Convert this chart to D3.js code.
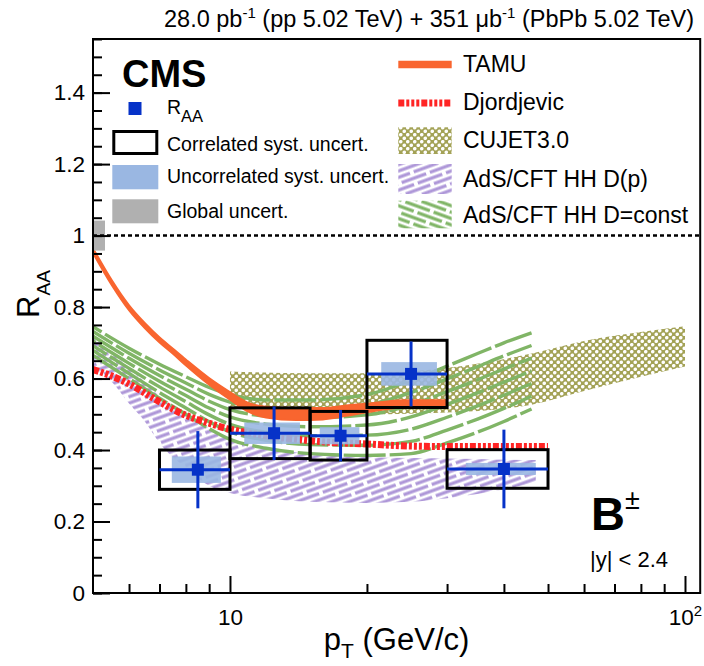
<!DOCTYPE html>
<html>
<head>
<meta charset="utf-8">
<script src="https://cdn.jsdelivr.net/npm/d3@7"></script>
<style>
  body { margin: 0; background: #fff; }
  svg text { font-family: "Liberation Sans", Arial, Helvetica, sans-serif; fill: #000; }
</style>
</head>
<body>
<svg id="chart" width="704" height="666"></svg>
<script>
// ---- CMS B+- nuclear modification factor, |y| < 2.4 ----
const binLow    = [7, 10, 15, 20, 30];
const binHigh   = [10, 15, 20, 30, 50];
const ptCenter  = [8.5, 12.5, 17.5, 25, 40];
const raa       = [0.345, 0.447, 0.440, 0.613, 0.347];
const statErr   = [0.108, 0.075, 0.072, 0.091, 0.110];
const corrSyst  = [0.055, 0.071, 0.068, 0.094, 0.054];
const uncorrSyst= [0.037, 0.030, 0.024, 0.033, 0.017];
const globalUnc = 0.042;

// ---- model predictions ----
const tamuPt = [5, 5.5, 6, 6.5, 7, 7.5, 8, 9, 10, 11, 12, 14, 16, 18, 20, 24, 30];
const tamuLo = [0.950, 0.860, 0.790, 0.740, 0.700, 0.668, 0.636, 0.582, 0.540, 0.506, 0.490, 0.483, 0.485, 0.495, 0.505, 0.518, 0.520];
const tamuHi = [0.966, 0.876, 0.806, 0.756, 0.716, 0.684, 0.654, 0.602, 0.563, 0.532, 0.522, 0.518, 0.518, 0.525, 0.530, 0.540, 0.540];

const djPt  = [5, 5.5, 6, 7, 8, 9, 10, 11, 12, 14, 16, 20, 25, 30, 40, 50];
const djRaa = [0.625, 0.607, 0.585, 0.535, 0.497, 0.475, 0.458, 0.448, 0.440, 0.430, 0.423, 0.417, 0.411, 0.410, 0.410, 0.410];

const cujetPt = [10, 15, 20, 30, 46, 60, 80, 100];
const cujetLo = [0.520, 0.505, 0.500, 0.505, 0.527, 0.565, 0.605, 0.634];
const cujetHi = [0.620, 0.615, 0.615, 0.630, 0.670, 0.705, 0.730, 0.746];

const adsDpPt = [5, 5.5, 6, 6.5, 7, 8, 9, 10, 12, 15, 20, 25, 30, 40, 47];
const adsDpLo = [0.625, 0.590, 0.530, 0.480, 0.420, 0.350, 0.300, 0.280, 0.265, 0.255, 0.252, 0.255, 0.265, 0.290, 0.310];
const adsDpHi = [0.715, 0.670, 0.630, 0.590, 0.550, 0.500, 0.460, 0.430, 0.405, 0.390, 0.380, 0.378, 0.376, 0.373, 0.372];

const adsDcPt = [5, 6, 7, 8, 9, 10, 12, 15, 20, 25, 30, 35, 40, 46];
const adsDcLo = [0.665, 0.600, 0.545, 0.500, 0.460, 0.430, 0.405, 0.390, 0.385, 0.390, 0.420, 0.450, 0.480, 0.515];
const adsDcHi = [0.745, 0.685, 0.640, 0.605, 0.575, 0.555, 0.540, 0.540, 0.555, 0.595, 0.635, 0.670, 0.700, 0.728];

// ---- axis ticks ----
const yMajorTicks = [0, 0.2, 0.4, 0.6, 0.8, 1.0, 1.2, 1.4];
const xMajorTicks = [10, 100];
const xMinorTicks = [6, 7, 8, 9, 20, 30, 40, 50, 60, 70, 80, 90];

// ---- colours ----
const cOrange = "#f9652f", cRed = "#ff2424", cOlive = "#a3a256", cPurple = "#ae97d8",
      cGreen = "#80b566", cBlue = "#0632c8", cLightBlue = "#9ab7e2", cGray = "#b0b0b0";
const djDash = "6,2,3,2,3,2,3,2";

const svg = d3.select("#chart");
const x = d3.scaleLog().domain([5, 108]).range([93, 700.2]);
const y = d3.scaleLinear().domain([0, 1.55]).range([593, 39]);
const X0 = x.range()[0], X1 = x.range()[1], Y0 = y.range()[0], Y1 = y.range()[1];

const defs = svg.append("defs");
defs.append("clipPath").attr("id", "plotClip").append("rect")
  .attr("x", X0).attr("y", Y1).attr("width", X1 - X0).attr("height", Y0 - Y1);

// dotted fill for CUJET3.0
const dots = defs.append("pattern").attr("id", "cujetDots")
  .attr("patternUnits", "userSpaceOnUse").attr("width", 7).attr("height", 7);
dots.append("rect").attr("width", 7).attr("height", 7).attr("fill", cOlive);
dots.append("circle").attr("cx", 1.75).attr("cy", 1.75).attr("r", 1.8).attr("fill", "#fff");
dots.append("circle").attr("cx", 5.25).attr("cy", 5.25).attr("r", 1.8).attr("fill", "#fff");

// slanted broken hatching
function hatch(id, colour, angle) {
  const p = defs.append("pattern").attr("id", id)
    .attr("patternUnits", "userSpaceOnUse").attr("width", 30).attr("height", 12)
    .attr("patternTransform", `rotate(${angle})`);
  const seg = [[0, 26, 3], [15, 30, 9], [0, 11, 9]];
  seg.forEach(s => p.append("line").attr("x1", s[0]).attr("x2", s[1]).attr("y1", s[2]).attr("y2", s[2])
    .attr("stroke", colour).attr("stroke-width", 3.2));
}
hatch("dpHatch", cPurple, -20);
hatch("dcHatch", cGreen, 20);

const plot = svg.append("g").attr("clip-path", "url(#plotClip)");

function band(pt, lo, hi) {
  return d3.area().x((d, i) => x(pt[i])).y0((d, i) => y(lo[i])).y1((d, i) => y(hi[i]))
    .curve(d3.curveMonotoneX)(pt);
}

// CUJET3.0
plot.append("path").attr("d", band(cujetPt, cujetLo, cujetHi)).attr("fill", "url(#cujetDots)");
// AdS/CFT HH D(p)
plot.append("path").attr("d", band(adsDpPt, adsDpLo, adsDpHi)).attr("fill", "url(#dpHatch)");
// AdS/CFT HH D=const: family of curves across the band
const nDc = 7;
d3.range(nDc).forEach(k => {
  const f = k / (nDc - 1);
  const line = d3.line().x((d, i) => x(adsDcPt[i]))
    .y((d, i) => y(adsDcLo[i] + f * (adsDcHi[i] - adsDcLo[i]))).curve(d3.curveMonotoneX);
  plot.append("path").attr("d", line(adsDcPt)).attr("fill", "none")
    .attr("stroke", cGreen).attr("stroke-width", 3.4).attr("stroke-dasharray", "42,4")
    .attr("stroke-dashoffset", k * 13);
});
// TAMU
plot.append("path").attr("d", band(tamuPt, tamuLo, tamuHi))
  .attr("fill", cOrange).attr("stroke", cOrange).attr("stroke-width", 1.5);
// Djordjevic
plot.append("path")
  .attr("d", d3.line().x((d, i) => x(djPt[i])).y((d, i) => y(djRaa[i])).curve(d3.curveMonotoneX)(djPt))
  .attr("fill", "none").attr("stroke", cRed).attr("stroke-width", 7)
  .attr("stroke-dasharray", djDash);

// global uncertainty at unity
plot.append("rect").attr("x", X0).attr("width", 12)
  .attr("y", y(1 + globalUnc)).attr("height", y(1 - globalUnc) - y(1 + globalUnc)).attr("fill", cGray);
// unity line
svg.append("line").attr("x1", X0).attr("x2", X1).attr("y1", y(1)).attr("y2", y(1))
  .attr("stroke", "#000").attr("stroke-width", 2.5).attr("stroke-dasharray", "4,3");

// data: uncorrelated syst. boxes (70% of the bin width)
const pts = ptCenter.map((c, i) => ({ c, lo: binLow[i], hi: binHigh[i], v: raa[i],
  st: statErr[i], cs: corrSyst[i], us: uncorrSyst[i] }));
plot.selectAll(".unc").data(pts).join("rect")
  .attr("x", d => x(d.c - 0.7 * (d.c - d.lo)))
  .attr("width", d => x(d.c + 0.7 * (d.hi - d.c)) - x(d.c - 0.7 * (d.c - d.lo)))
  .attr("y", d => y(d.v + d.us)).attr("height", d => y(d.v - d.us) - y(d.v + d.us))
  .attr("fill", cLightBlue).attr("opacity", 0.9);
// correlated syst. boxes
plot.selectAll(".corr").data(pts).join("rect")
  .attr("x", d => x(d.lo)).attr("width", d => x(d.hi) - x(d.lo))
  .attr("y", d => y(d.v + d.cs)).attr("height", d => y(d.v - d.cs) - y(d.v + d.cs))
  .attr("fill", "none").attr("stroke", "#000").attr("stroke-width", 3);
// statistical error bars
plot.selectAll(".ex").data(pts).join("line")
  .attr("x1", d => x(d.lo)).attr("x2", d => x(d.hi)).attr("y1", d => y(d.v)).attr("y2", d => y(d.v))
  .attr("stroke", cBlue).attr("stroke-width", 3);
plot.selectAll(".ey").data(pts).join("line")
  .attr("x1", d => x(d.c)).attr("x2", d => x(d.c)).attr("y1", d => y(d.v + d.st)).attr("y2", d => y(d.v - d.st))
  .attr("stroke", cBlue).attr("stroke-width", 3);
plot.selectAll(".mk").data(pts).join("rect")
  .attr("x", d => x(d.c) - 6).attr("y", d => y(d.v) - 6).attr("width", 12).attr("height", 12)
  .attr("fill", cBlue);

// ---- axes ----
function styleAxis(g, fs) {
  g.select(".domain").remove();
  g.selectAll(".tick line").attr("stroke", "#000").attr("stroke-width", 2);
  g.selectAll(".tick text").attr("font-size", fs).attr("fill", "#000");
}
svg.append("g").attr("transform", `translate(${X0},0)`)
  .call(d3.axisLeft(y).tickValues(y.ticks(31)).tickSize(-9).tickFormat(""))
  .call(g => styleAxis(g, 0));
svg.append("g").attr("transform", `translate(${X0},0)`)
  .call(d3.axisLeft(y).tickValues(yMajorTicks).tickSize(-17).tickPadding(8).tickFormat(d3.format("~g")))
  .call(g => styleAxis(g, 22.5));
svg.append("g").attr("transform", `translate(0,${Y0})`)
  .call(d3.axisBottom(x).tickValues(xMinorTicks).tickSize(-9).tickFormat(""))
  .call(g => styleAxis(g, 0));
const xAx = svg.append("g").attr("transform", `translate(0,${Y0})`)
  .call(d3.axisBottom(x).tickValues(xMajorTicks).tickSize(-17).tickPadding(16).tickFormat(d => d === 100 ? "" : "10"))
  .call(g => styleAxis(g, 22.5));
xAx.selectAll(".tick text").filter(d => d === 100).each(function () {
  const t = d3.select(this);
  t.append("tspan").text("10");
  t.append("tspan").attr("font-size", 15).attr("dy", -9).text("2");
});

// frame
svg.append("rect").attr("x", X0).attr("y", Y1).attr("width", X1 - X0).attr("height", Y0 - Y1)
  .attr("fill", "none").attr("stroke", "#000").attr("stroke-width", 2);

// axis titles
const xt = svg.append("text").attr("x", (X0 + X1) / 2).attr("y", 650).attr("text-anchor", "middle").attr("font-size", 31);
xt.append("tspan").text("p");
xt.append("tspan").attr("font-size", 21).attr("dy", 8).text("T");
xt.append("tspan").attr("dy", -8).text(" (GeV/c)");
const yt = svg.append("text").attr("transform", "translate(38.6,294) rotate(-90)").attr("text-anchor", "middle").attr("font-size", 31);
yt.append("tspan").text("R");
yt.append("tspan").attr("font-size", 19).attr("dy", 11).text("AA");

// header
const hd = svg.append("text").attr("x", 694).attr("y", 27).attr("text-anchor", "end").attr("font-size", 23.5);
hd.append("tspan").text("28.0 pb");
hd.append("tspan").attr("font-size", 15).attr("dy", -9).text("-1");
hd.append("tspan").attr("dy", 9).text(" (pp 5.02 TeV) + 351 μb");
hd.append("tspan").attr("font-size", 15).attr("dy", -9).text("-1");
hd.append("tspan").attr("dy", 9).text(" (PbPb 5.02 TeV)");

// CMS label and channel
svg.append("text").attr("x", 122).attr("y", 86.5).attr("font-size", 38).attr("font-weight", "bold").text("CMS");
const bl = svg.append("text").attr("x", 591).attr("y", 530).attr("font-size", 47).attr("font-weight", "bold");
bl.append("tspan").text("B");
bl.append("tspan").attr("font-size", 27).attr("font-weight", "normal").attr("dy", -21).text("±");
svg.append("text").attr("x", 590).attr("y", 566.5).attr("font-size", 22).text("|y| < 2.4");

// ---- left legend ----
const lx = 167, lfs = 19.5;
svg.append("rect").attr("x", 128.5).attr("y", 102).attr("width", 13).attr("height", 13).attr("fill", cBlue);
const lr = svg.append("text").attr("x", lx).attr("y", 114).attr("font-size", lfs);
lr.append("tspan").text("R");
lr.append("tspan").attr("font-size", 16.5).attr("dy", 7.7).text("AA");
svg.append("rect").attr("x", 113.8).attr("y", 131.5).attr("width", 43).attr("height", 22)
  .attr("fill", "none").attr("stroke", "#000").attr("stroke-width", 3);
svg.append("text").attr("x", lx).attr("y", 150.7).attr("font-size", lfs).text("Correlated syst. uncert.");
svg.append("rect").attr("x", 112.3).attr("y", 165).attr("width", 46).attr("height", 24.3).attr("fill", cLightBlue);
svg.append("text").attr("x", lx).attr("y", 183.3).attr("font-size", lfs).text("Uncorrelated syst. uncert.");
svg.append("rect").attr("x", 112.3).attr("y", 199.3).attr("width", 46).attr("height", 24).attr("fill", cGray);
svg.append("text").attr("x", lx).attr("y", 218.3).attr("font-size", lfs).text("Global uncert.");

// ---- right legend ----
const rx = 463, rfs = 23;
svg.append("line").attr("x1", 398.3).attr("x2", 451.7).attr("y1", 64.5).attr("y2", 64.5)
  .attr("stroke", cOrange).attr("stroke-width", 7.6);
svg.append("text").attr("x", rx).attr("y", 72.3).attr("font-size", rfs).text("TAMU");
svg.append("line").attr("x1", 398.3).attr("x2", 451.7).attr("y1", 103).attr("y2", 103)
  .attr("stroke", cRed).attr("stroke-width", 7).attr("stroke-dasharray", djDash);
svg.append("text").attr("x", rx).attr("y", 110).attr("font-size", rfs).text("Djordjevic");
svg.append("rect").attr("x", 398.3).attr("y", 127.3).attr("width", 53.4).attr("height", 26.7).attr("fill", "url(#cujetDots)");
svg.append("text").attr("x", rx).attr("y", 148.3).attr("font-size", rfs).text("CUJET3.0");
svg.append("rect").attr("x", 398.3).attr("y", 164).attr("width", 53.4).attr("height", 30).attr("fill", "url(#dpHatch)");
svg.append("text").attr("x", rx).attr("y", 186.5).attr("font-size", rfs).text("AdS/CFT HH D(p)");
svg.append("rect").attr("x", 398.3).attr("y", 200.7).attr("width", 53.4).attr("height", 27.6).attr("fill", "url(#dcHatch)");
svg.append("text").attr("x", rx).attr("y", 222.7).attr("font-size", rfs).text("AdS/CFT HH D=const");
</script>
</body>
</html>
